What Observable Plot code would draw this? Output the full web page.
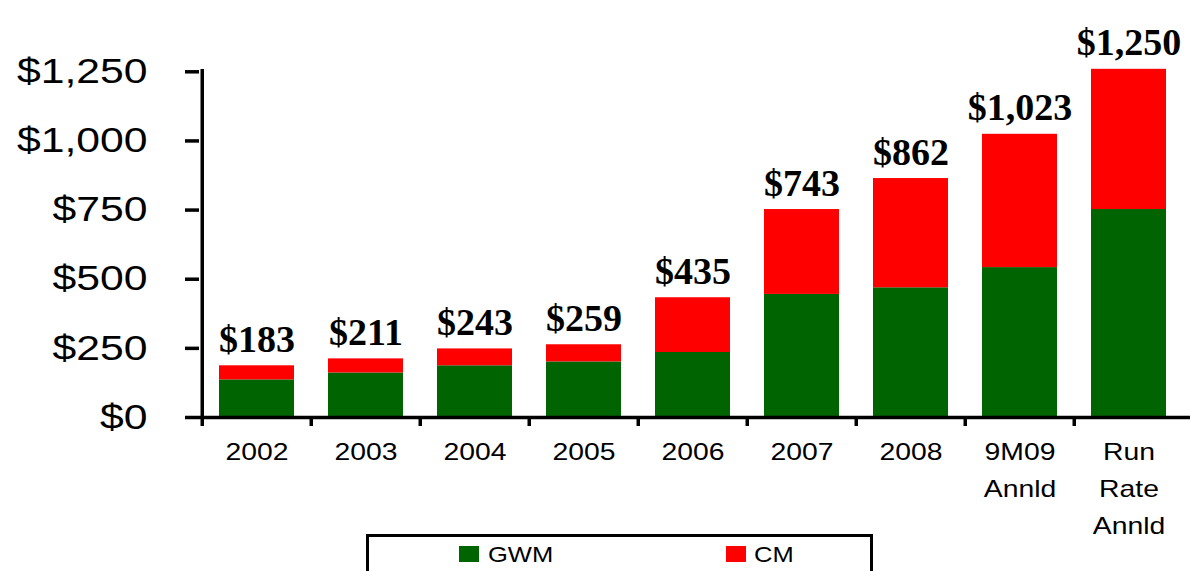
<!DOCTYPE html>
<html>
<head>
<meta charset="utf-8">
<script src="https://cdn.jsdelivr.net/npm/d3@7"></script>
<script src="https://cdn.jsdelivr.net/npm/@observablehq/plot@0.6"></script>
<style>
html, body { margin: 0; padding: 0; background: #fff; overflow: hidden; }
#chart svg { display: block; overflow: visible; }
.legend { position: relative; margin-left: 366px; width: 507px; height: 50px; border: 3px solid #000; box-sizing: border-box; font-family: "Liberation Sans", Arial, sans-serif; font-size: 22px; line-height: 22px; color: #000; }
.legend .sw { position: absolute; top: 9px; width: 20px; height: 16px; }
.legend .lb { position: absolute; top: 7px; display: inline-block; transform: scaleX(1.16); transform-origin: left center; white-space: nowrap; }
</style>
</head>
<body>
<div id="chart"></div>
<div class="legend" id="legend"></div>
<script>
// ---- data ----
const categories = ["2002", "2003", "2004", "2005", "2006", "2007", "2008", "9M09 Annld", "Run Rate Annld"];
const tickLabels = ["2002", "2003", "2004", "2005", "2006", "2007", "2008", "9M09\nAnnld", "Run\nRate\nAnnld"];
const gwm = [136, 161, 187, 201, 235, 445, 469, 542, 752];
const cm = [51, 51, 61, 62, 198, 307, 395, 482, 507];
const totalLabels = [183, 211, 243, 259, 435, 743, 862, 1023, 1250];
const yTicks = [0, 250, 500, 750, 1000, 1250];
const seriesNames = ["GWM", "CM"];
const seriesColors = ["#006400", "#ff0000"];

// long table for the stacked bars (GWM first so it sits at the bottom)
const rows = [];
seriesNames.forEach((s, si) => {
  const vals = si === 0 ? gwm : cm;
  categories.forEach((c, i) => rows.push({category: c, series: s, value: vals[i]}));
});

const xRange = [199.25, 1184.75];
const step = (xRange[1] - xRange[0]) / categories.length;
const money = d => "$" + d3.format(",")(d);

const svg = Plot.plot({
  width: 1190,
  height: 534,
  marginLeft: 199,
  marginRight: 0,
  marginTop: 69,
  marginBottom: 117,
  style: {fontFamily: "Liberation Sans, Arial, sans-serif", fontSize: "35px", background: "white", color: "black", overflow: "visible"},
  x: {type: "band", domain: categories, range: xRange, paddingInner: 0.315, paddingOuter: 0.1575, label: null},
  y: {domain: [0, 1250], range: [417, 71.3], label: null},
  color: {domain: seriesNames, range: seriesColors},
  marks: [
    Plot.barY(rows, {x: "category", y: "value", fill: "series"}),
    // vertical axis line
    Plot.ruleX([categories[0]], {x: d => d, dx: -step / 2, stroke: "black", strokeWidth: 3.5}),
    // baseline
    Plot.ruleY([0], {stroke: "black", strokeWidth: 3.5}),
    Plot.axisY({anchor: "left", label: null, ticks: yTicks, tickFormat: money, tickSize: 14, tickPadding: 38, stroke: "black", strokeWidth: 3.5, fontSize: 35, fill: "black"}),
    // category separator ticks
    Plot.axisX({label: null, tickSize: 9, dx: -step / 2, tickFormat: () => "", stroke: "black", strokeWidth: 3.5}),
    // category labels
    Plot.text(categories, {x: d => d, y: () => 0, text: (d, i) => tickLabels[i], lineAnchor: "top", dy: 16, lineHeight: 1.54, fontSize: 24, fontFamily: "Liberation Sans, Arial, sans-serif", fill: "black"}),
    // total labels
    Plot.text(categories, {x: d => d, y: (d, i) => gwm[i] + cm[i], text: (d, i) => money(totalLabels[i]), lineAnchor: "bottom", dy: -14, fontSize: 38, fontWeight: "bold", fontFamily: "Liberation Serif, Times New Roman, serif", fill: "black"})
  ]
});
document.getElementById("chart").appendChild(svg);

// the reference's sans-serif text is horizontally stretched
function stretch(nodes, f) {
  nodes.forEach(t => {
    const parts = t.querySelectorAll("tspan");
    const list = parts.length ? Array.from(parts) : [t];
    list.forEach(el => {
      const w = el.getComputedTextLength();
      if (w > 0) {
        el.setAttribute("textLength", (w * f).toFixed(1));
        el.setAttribute("lengthAdjust", "spacingAndGlyphs");
      }
    });
  });
}
stretch(svg.querySelectorAll('g[aria-label="y-axis tick label"] text'), 1.22);
stretch(svg.querySelectorAll('g[font-size="24"] text'), 1.18);

// legend
const legend = document.getElementById("legend");
const swLeft = [90, 357];
const lbLeft = [119, 385];
seriesNames.forEach((s, i) => {
  const sw = document.createElement("span");
  sw.className = "sw";
  sw.style.left = swLeft[i] + "px";
  sw.style.background = seriesColors[i];
  legend.appendChild(sw);
  const lb = document.createElement("span");
  lb.className = "lb";
  lb.style.left = lbLeft[i] + "px";
  lb.textContent = s;
  legend.appendChild(lb);
});
</script>
</body>
</html>
